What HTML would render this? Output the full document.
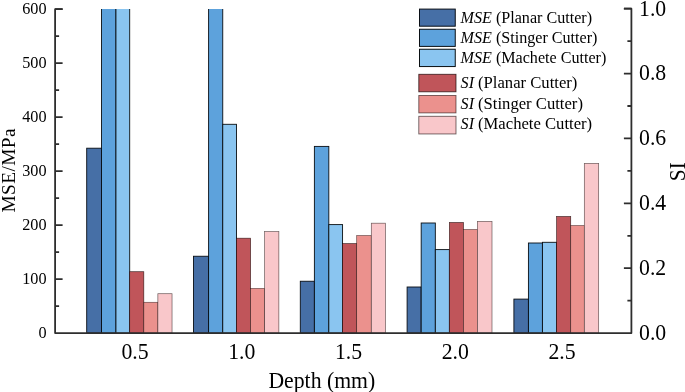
<!DOCTYPE html>
<html lang="en"><head><meta charset="utf-8"><title>MSE and SI vs Depth</title>
<style>html,body{margin:0;padding:0;background:#fff}svg{display:block;will-change:transform}text{font-family:"Liberation Serif","Times New Roman",serif;fill:#000}</style></head><body>
<svg width="685" height="392" viewBox="0 0 685 392">
<rect width="685" height="392" fill="#fff"/>
<defs><clipPath id="plot"><rect x="55.1" y="9.1" width="576.3" height="326.0"/></clipPath></defs>
<g clip-path="url(#plot)" stroke-width="0.7">
<rect x="86.70" y="148.20" width="14.85" height="184.90" fill="#466fa6" stroke="rgba(4,8,14,0.97)" stroke-width="0.9"/>
<rect x="101.55" y="-50.00" width="14.40" height="383.10" fill="#5da2dc" stroke="rgba(4,8,12,0.97)" stroke-width="0.9"/>
<rect x="115.95" y="-50.00" width="13.75" height="383.10" fill="#8ac5f0" stroke="rgba(4,8,10,0.97)" stroke-width="0.9"/>
<rect x="129.70" y="271.70" width="14.10" height="61.40" fill="#c0555a" stroke="rgba(20,0,0,0.75)" stroke-width="0.7"/>
<rect x="143.80" y="302.30" width="14.05" height="30.80" fill="#eb918d" stroke="rgba(20,0,0,0.6)" stroke-width="0.7"/>
<rect x="157.85" y="293.70" width="14.20" height="39.40" fill="#f9c7ca" stroke="rgba(20,5,5,0.62)" stroke-width="0.7"/>
<rect x="193.50" y="256.25" width="15.10" height="76.85" fill="#466fa6" stroke="rgba(4,8,14,0.97)" stroke-width="0.9"/>
<rect x="208.60" y="-50.00" width="14.15" height="383.10" fill="#5da2dc" stroke="rgba(4,8,12,0.97)" stroke-width="0.9"/>
<rect x="222.75" y="124.30" width="13.75" height="208.80" fill="#8ac5f0" stroke="rgba(4,8,10,0.97)" stroke-width="0.9"/>
<rect x="236.50" y="238.20" width="14.10" height="94.90" fill="#c0555a" stroke="rgba(20,0,0,0.75)" stroke-width="0.7"/>
<rect x="250.60" y="288.40" width="14.05" height="44.70" fill="#eb918d" stroke="rgba(20,0,0,0.6)" stroke-width="0.7"/>
<rect x="264.65" y="231.60" width="14.20" height="101.50" fill="#f9c7ca" stroke="rgba(20,5,5,0.62)" stroke-width="0.7"/>
<rect x="300.30" y="281.25" width="14.08" height="51.85" fill="#466fa6" stroke="rgba(4,8,14,0.97)" stroke-width="0.9"/>
<rect x="314.38" y="146.40" width="14.44" height="186.70" fill="#5da2dc" stroke="rgba(4,8,12,0.97)" stroke-width="0.9"/>
<rect x="328.82" y="224.60" width="13.75" height="108.50" fill="#8ac5f0" stroke="rgba(4,8,10,0.97)" stroke-width="0.9"/>
<rect x="342.57" y="243.60" width="14.10" height="89.50" fill="#c0555a" stroke="rgba(20,0,0,0.75)" stroke-width="0.7"/>
<rect x="356.67" y="235.50" width="14.63" height="97.60" fill="#eb918d" stroke="rgba(20,0,0,0.6)" stroke-width="0.7"/>
<rect x="371.30" y="223.20" width="14.20" height="109.90" fill="#f9c7ca" stroke="rgba(20,5,5,0.62)" stroke-width="0.7"/>
<rect x="407.10" y="287.00" width="14.08" height="46.10" fill="#466fa6" stroke="rgba(4,8,14,0.97)" stroke-width="0.9"/>
<rect x="421.18" y="223.00" width="14.15" height="110.10" fill="#5da2dc" stroke="rgba(4,8,12,0.97)" stroke-width="0.9"/>
<rect x="435.33" y="249.60" width="14.04" height="83.50" fill="#8ac5f0" stroke="rgba(4,8,10,0.97)" stroke-width="0.9"/>
<rect x="449.37" y="222.50" width="14.10" height="110.60" fill="#c0555a" stroke="rgba(20,0,0,0.75)" stroke-width="0.7"/>
<rect x="463.47" y="229.50" width="13.90" height="103.60" fill="#eb918d" stroke="rgba(20,0,0,0.6)" stroke-width="0.7"/>
<rect x="477.37" y="221.40" width="14.64" height="111.70" fill="#f9c7ca" stroke="rgba(20,5,5,0.62)" stroke-width="0.7"/>
<rect x="513.90" y="299.10" width="14.52" height="34.00" fill="#466fa6" stroke="rgba(4,8,14,0.97)" stroke-width="0.9"/>
<rect x="528.42" y="243.00" width="14.00" height="90.10" fill="#5da2dc" stroke="rgba(4,8,12,0.97)" stroke-width="0.9"/>
<rect x="542.42" y="242.30" width="14.19" height="90.80" fill="#8ac5f0" stroke="rgba(4,8,10,0.97)" stroke-width="0.9"/>
<rect x="556.61" y="216.50" width="14.10" height="116.60" fill="#c0555a" stroke="rgba(20,0,0,0.75)" stroke-width="0.7"/>
<rect x="570.71" y="225.50" width="13.61" height="107.60" fill="#eb918d" stroke="rgba(20,0,0,0.6)" stroke-width="0.7"/>
<rect x="584.32" y="163.40" width="14.35" height="169.70" fill="#f9c7ca" stroke="rgba(20,5,5,0.62)" stroke-width="0.7"/>
</g>
<g stroke="#2e2e2e" stroke-width="1.8" fill="none" stroke-linejoin="round">
<path d="M62.6 9.1H55.1V333.1H631.4V8.7h-7.5"/>
<path d="M55.1 306.10h4.0M55.1 279.10h7.5M55.1 252.10h4.0M55.1 225.10h7.5M55.1 198.10h4.0M55.1 171.10h7.5M55.1 144.10h4.0M55.1 117.10h7.5M55.1 90.10h4.0M55.1 63.10h7.5M55.1 36.10h4.0M55.1 9.10h7.5"/>
<path d="M631.4 300.66h-4.0M631.4 268.22h-7.5M631.4 235.78h-4.0M631.4 203.34h-7.5M631.4 170.90h-4.0M631.4 138.46h-7.5M631.4 106.02h-4.0M631.4 73.58h-7.5M631.4 41.14h-4.0M631.4 8.70h-7.5"/>
</g>
<text transform="translate(46.6 338.10) scale(0.975 1)" font-size="16.65" text-anchor="end">0</text>
<text transform="translate(46.6 284.10) scale(0.975 1)" font-size="16.65" text-anchor="end">100</text>
<text transform="translate(46.6 230.10) scale(0.975 1)" font-size="16.65" text-anchor="end">200</text>
<text transform="translate(46.6 176.10) scale(0.975 1)" font-size="16.65" text-anchor="end">300</text>
<text transform="translate(46.6 122.10) scale(0.975 1)" font-size="16.65" text-anchor="end">400</text>
<text transform="translate(46.6 68.10) scale(0.975 1)" font-size="16.65" text-anchor="end">500</text>
<text transform="translate(46.6 14.10) scale(0.975 1)" font-size="16.65" text-anchor="end">600</text>
<text transform="translate(639.0 340.00) scale(0.955 1)" font-size="22.8">0.0</text>
<text transform="translate(639.0 275.12) scale(0.955 1)" font-size="22.8">0.2</text>
<text transform="translate(639.0 210.24) scale(0.955 1)" font-size="22.8">0.4</text>
<text transform="translate(639.0 145.36) scale(0.955 1)" font-size="22.8">0.6</text>
<text transform="translate(639.0 80.48) scale(0.955 1)" font-size="22.8">0.8</text>
<text transform="translate(639.0 15.60) scale(0.955 1)" font-size="22.8">1.0</text>
<text transform="translate(135.00 358.7) scale(0.955 1)" font-size="22.8" text-anchor="middle">0.5</text>
<text transform="translate(241.75 358.7) scale(0.955 1)" font-size="22.8" text-anchor="middle">1.0</text>
<text transform="translate(348.50 358.7) scale(0.955 1)" font-size="22.8" text-anchor="middle">1.5</text>
<text transform="translate(455.25 358.7) scale(0.955 1)" font-size="22.8" text-anchor="middle">2.0</text>
<text transform="translate(562.00 358.7) scale(0.955 1)" font-size="22.8" text-anchor="middle">2.5</text>
<text transform="translate(321.8 387.6) scale(0.979 1)" font-size="22.2" text-anchor="middle">Depth (mm)</text>
<text transform="translate(14.6 170.3) rotate(-90)" font-size="19.3" letter-spacing="0.45" text-anchor="middle">MSE/MPa</text>
<text transform="translate(684.9 171.7) rotate(-90) scale(0.955 1)" font-size="22.4" text-anchor="middle">SI</text>
<rect x="419.5" y="9.1" width="35.75" height="17.1" fill="#466fa6" stroke="rgba(4,8,14,0.97)" stroke-width="1.0"/>
<text x="460.6" y="22.9" font-size="16.1"><tspan font-style="italic" font-size="16.1">MSE </tspan>(Planar Cutter)</text>
<rect x="419.5" y="29.25" width="35.75" height="17.15" fill="#5da2dc" stroke="rgba(4,8,12,0.97)" stroke-width="1.0"/>
<text x="460.6" y="43.0" font-size="16.1"><tspan font-style="italic" font-size="16.1">MSE </tspan>(Stinger Cutter)</text>
<rect x="419.5" y="49.25" width="35.75" height="17.3" fill="#8ac5f0" stroke="rgba(4,8,10,0.97)" stroke-width="1.0"/>
<text x="460.6" y="63.2" font-size="16.1"><tspan font-style="italic" font-size="16.1">MSE </tspan>(Machete Cutter)</text>
<rect x="418.8" y="74.3" width="37.2" height="17.5" fill="#c0555a" stroke="rgba(20,0,0,0.75)" stroke-width="0.9"/>
<text x="460.6" y="87.8" font-size="16.65"><tspan font-style="italic" font-size="16.1">SI </tspan>(Planar Cutter)</text>
<rect x="418.8" y="95.45" width="37.2" height="17.45" fill="#eb918d" stroke="rgba(20,0,0,0.6)" stroke-width="0.9"/>
<text x="460.6" y="108.8" font-size="16.65"><tspan font-style="italic" font-size="16.1">SI </tspan>(Stinger Cutter)</text>
<rect x="418.8" y="116.3" width="37.2" height="17.65" fill="#f9c7ca" stroke="rgba(20,5,5,0.62)" stroke-width="0.9"/>
<text x="460.6" y="129.4" font-size="16.65"><tspan font-style="italic" font-size="16.1">SI </tspan>(Machete Cutter)</text>
</svg></body></html>
